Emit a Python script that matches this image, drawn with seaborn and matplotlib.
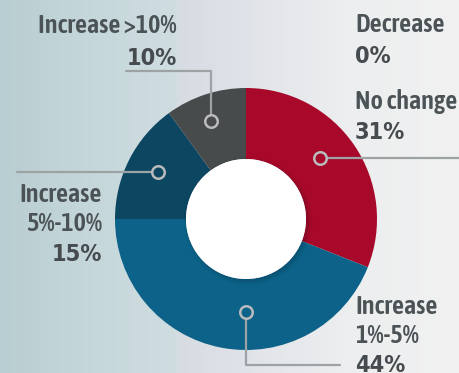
import numpy as np
import pandas as pd
import matplotlib
matplotlib.use("Agg")
import matplotlib.pyplot as plt
from matplotlib.colors import LinearSegmentedColormap
from matplotlib import font_manager as fm
import seaborn as sns

# ---- data ----
categories = ["No change", "Increase 1%-5%", "Increase 5%-10%", "Increase >10%", "Decrease"]
values = [31, 44, 15, 10, 0]
colors = ["#A8082A", "#0C6288", "#0D4661", "#474B4B", "#888888"]

sns.set_theme(style="white")
plt.rcParams["font.family"] = ["Liberation Sans", "DejaVu Sans"]

# condensed faces available
cands = []
for f in fm.fontManager.ttflist:
    n = f.name.lower()
    st = str(f.stretch).lower()
    if ("condensed" in n or "narrow" in n or "condensed" in st) and "mono" not in n \
            and "italic" not in str(f.style).lower() and "oblique" not in str(f.style).lower():
        w = f.weight if isinstance(f.weight, (int, float)) else fm.weight_dict.get(str(f.weight), 400)
        cands.append((w, f.fname))

def pick(target):
    return sorted(cands, key=lambda c: (abs(c[0] - target), -c[0]))[0][1]

if cands:
    fp_lab = fm.FontProperties(fname=pick(600), size=18.8)
    fp_pct = fm.FontProperties(fname=pick(700), size=16.8)
else:
    fp_lab = fm.FontProperties(family=["Liberation Sans", "DejaVu Sans"], weight="bold", size=14.5)
    fp_pct = fm.FontProperties(family=["Liberation Sans", "DejaVu Sans"], weight="bold", size=15.5)

W, H = 460, 373
fig = plt.figure(figsize=(W / 100, H / 100), dpi=100)

# background gradient
bg = fig.add_axes([0, 0, 1, 1])
bg.set_axis_off()
cmap = LinearSegmentedColormap.from_list(
    "bg",
    [(0.0, "#B9CED2"), (0.2, "#C5D7DA"), (0.38, "#CFDDE1"), (0.39, "#D7DCE3"),
     (0.55, "#E1E4E9"), (0.75, "#ECEEEF"), (1.0, "#F1F1F1")])
grad = np.linspace(0, 1, 460)[None, :]
bg.imshow(grad, aspect="auto", cmap=cmap, extent=[0, 1, 0, 1])

ax = fig.add_axes([0, 0, 1, 1])
ax.patch.set_alpha(0)

def Y(y):
    return H - y

df = pd.DataFrame({"cat": categories, "val": values, "color": colors})
nz = df[df.val > 0]
cx, cy, R = 246, 219, 131
wedges, _ = ax.pie(nz.val, colors=list(nz.color), startangle=90, counterclock=False,
                   center=(cx, Y(cy)), radius=R, frame=True,
                   wedgeprops=dict(width=R - 60, linewidth=0))
ax.set_xlim(0, W)
ax.set_ylim(0, H)
ax.set_aspect("equal")
ax.set_axis_off()

# hole shadow
for i, a in enumerate(np.linspace(0.12, 0.0, 6)):
    ax.add_patch(plt.Circle((cx + 2, Y(cy) - 2), 60 + i * 1.2, color="#0a1a25",
                            alpha=a * 0.5, lw=0, zorder=3))
ax.add_patch(plt.Circle((cx, Y(cy)), 60, color="white", lw=0, zorder=4))

lc = "#9DA2A5"
lw = 1.6
def marker(x, y, fc):
    ax.plot([x], [Y(y)], marker="o", ms=9, mfc=fc, mec="#B9BBBC", mew=1.8, zorder=6)

# leader lines
ax.plot([211, 211, 126], [Y(121), Y(71), Y(71)], color=lc, lw=lw, zorder=5)
marker(211, 121, colors[3])
ax.plot([158, 17], [Y(172), Y(172)], color=lc, lw=lw, zorder=5)
marker(158, 172, colors[2])
ax.plot([320, 460], [Y(158), Y(158)], color=lc, lw=lw, zorder=5)
marker(320, 158, colors[0])
ax.plot([246, 246, 340], [Y(312), Y(365), Y(365)], color=lc, lw=lw, zorder=5)
marker(246, 312, colors[1])

tc = "#4B5357"
pc = "#454B4F"

def lab(x, y, s, ha, bold=False):
    ax.text(x, Y(y), s, ha=ha, va="baseline", fontproperties=fp_pct if bold else fp_lab,
            color=pc if bold else tc, zorder=7)

lab(177, 33, "Increase >10%", "right")
lab(177, 65, f"{values[3]}%", "right", True)
lab(355, 32, "Decrease", "left")
lab(355, 63, f"{values[4]}%", "left", True)
lab(355, 109, "No change", "left")
lab(355, 139, f"{values[0]}%", "left", True)
lab(102, 202, "Increase", "right")
lab(102, 231, "5%-10%", "right")
lab(102, 261, f"{values[2]}%", "right", True)
lab(355, 314, "Increase", "left")
lab(355, 343, "1%-5%", "left")
lab(355, 372, f"{values[1]}%", "left", True)

fig.savefig("out.png", dpi=100)
